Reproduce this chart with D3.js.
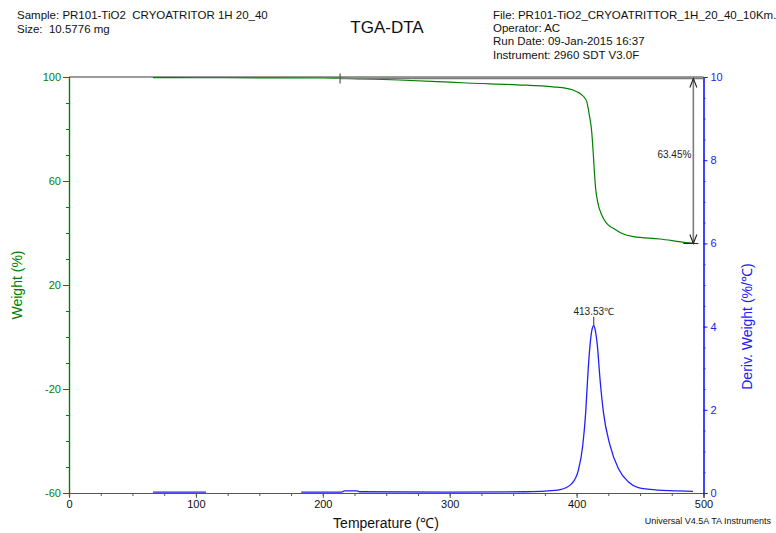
<!DOCTYPE html>
<html>
<head>
<meta charset="utf-8">
<script src="https://cdn.jsdelivr.net/npm/d3@7"></script>
<style>
  html, body { margin: 0; padding: 0; background: #fff; }
  svg { display: block; font-family: "Liberation Sans", Arial, sans-serif; }
  text { white-space: pre; }
</style>
</head>
<body>
<svg id="chart" width="776" height="533"></svg>
<script>
// Header lines
const headerLeft = ["Sample: PR101-TiO2  CRYOATRITOR 1H 20_40", "Size:  10.5776 mg"];
const headerRight = ["File: PR101-TiO2_CRYOATRITTOR_1H_20_40_10Km.", "Operator: AC",
                     "Run Date: 09-Jan-2015 16:37", "Instrument: 2960 SDT V3.0F"];
const titleText = "TGA-DTA";

// Weight (%) vs temperature (°C)
const weightTemp = [66.2, 100, 150, 200, 213.6, 230, 260, 290, 313.6, 353, 381.4, 392, 397.2, 401.5,
                    403, 405.5, 408, 410, 411.9, 413.2, 414, 415, 416.6, 419.8, 423.7, 428.9, 435.5,
                    444.7, 465.7, 486.8, 491.7];
const weightVal  = [99.75, 99.72, 99.68, 99.62, 99.55, 99.3, 98.85, 98.25, 97.7, 97.0, 96.2, 95.6, 95.0, 94.0,
                    93.6, 92.5, 90.5, 85.4, 79.0, 70.0, 63.6, 57.2, 52.0, 46.9, 43.7, 41.8, 39.9,
                    38.6, 37.7, 36.3, 36.1];

// Derivative weight (%/°C) vs temperature (°C), three recorded segments
const derivSegments = [
  { temp: [66.2, 108], val: [0.02, 0.02] },
  { temp: [183, 215, 217, 227, 229, 300, 360], val: [0.02, 0.02, 0.05, 0.05, 0.03, 0.02, 0.03] },
  { temp: [360, 375, 387, 396, 401.4, 404.8, 407.2, 408.7, 410.6, 412.3, 413.53, 414.8, 416.3, 418.4,
           421.1, 426.3, 432.9, 440.7, 448.6, 465, 480, 491.7],
    val:  [0.03, 0.045, 0.08, 0.22, 0.55, 1.13, 1.95, 2.76, 3.56, 3.95, 4.02, 3.9, 3.56, 2.76,
           1.95, 1.15, 0.59, 0.27, 0.13, 0.07, 0.05, 0.04] }
];

// Step analysis and peak annotation
const stepStartTemp = 213.6;
const stepTop = 99.4;
const stepLoss = 63.45;
const stepArrowTemp = 492;
const peakTemp = 413.53;
const peakVal = 4.02;

// Axis ticks
const xMajor = [0, 100, 200, 300, 400, 500];
const xMinor = d3.range(0, 501, 25);
const wMajor = [-60, -20, 20, 60, 100];
const wMinor = d3.range(-60, 101, 10);
const dMajor = [0, 2, 4, 6, 8, 10];
const dMinor = d3.range(0, 10.01, 0.5);

const GREEN = "#008000", BLUE = "#2020ff", GRAY = "#7a7a7a";
const intFmt = d => String(Math.round(d));   // plain hyphen for negatives

const svg = d3.select("#chart");
const x = d3.scaleLinear().domain([0, 500]).range([69, 703.5]);
const yW = d3.scaleLinear().domain([-60, 100]).range([493, 77]);
const yD = d3.scaleLinear().domain([0, 10]).range([493, 77]);

// Header text
svg.append("g").selectAll("text").data(headerLeft).join("text")
  .attr("x", 17).attr("y", (d, i) => 19 + i * 13.5)
  .attr("font-size", 11.5).attr("fill", "#111").text(d => d);
svg.append("g").selectAll("text").data(headerRight).join("text")
  .attr("x", 493).attr("y", (d, i) => 19 + i * 13.2)
  .attr("font-size", 11.5).attr("fill", "#111").text(d => d);
svg.append("text").attr("x", 387).attr("y", 33).attr("text-anchor", "middle")
  .attr("font-size", 17).attr("fill", "#111").text(titleText);

// Frame top line
svg.append("line").attr("x1", x(0)).attr("x2", x(500)).attr("y1", yW(100)).attr("y2", yW(100))
  .attr("stroke", GRAY).attr("stroke-width", 1.3);

// Axes
function styleAxis(g, color, textColor) {
  g.select(".domain").attr("stroke", color).attr("stroke-width", 1.2);
  g.selectAll(".tick line").attr("stroke", color);
  g.selectAll(".tick text").attr("fill", textColor).attr("font-size", 11)
    .attr("font-family", "Liberation Sans, Arial, sans-serif");
}

// x axis
const gxMinor = svg.append("g").attr("transform", `translate(0,${yW(-60)})`)
  .call(d3.axisBottom(x).tickValues(xMinor).tickSize(3).tickFormat(""));
styleAxis(gxMinor, "#555", "#111");
const gx = svg.append("g").attr("transform", `translate(0,${yW(-60)})`)
  .call(d3.axisBottom(x).tickValues(xMajor).tickSize(5).tickPadding(2).tickFormat(intFmt));
styleAxis(gx, "#555", "#111");

// left weight axis
const gwMinor = svg.append("g").attr("transform", `translate(${x(0)},0)`)
  .call(d3.axisLeft(yW).tickValues(wMinor).tickSize(3).tickFormat(""));
styleAxis(gwMinor, GREEN, GREEN);
const gw = svg.append("g").attr("transform", `translate(${x(0)},0)`)
  .call(d3.axisLeft(yW).tickValues(wMajor).tickSize(6).tickPadding(2).tickFormat(intFmt));
styleAxis(gw, GREEN, GREEN);

// right derivative axis
const gdMinor = svg.append("g").attr("transform", `translate(${x(500)},0)`)
  .call(d3.axisRight(yD).tickValues(dMinor).tickSize(2).tickFormat(""));
styleAxis(gdMinor, BLUE, BLUE);
const gd = svg.append("g").attr("transform", `translate(${x(500)},0)`)
  .call(d3.axisRight(yD).tickValues(dMajor).tickSize(4).tickPadding(3).tickFormat(intFmt));
styleAxis(gd, BLUE, BLUE);

// Axis titles
svg.append("text").attr("transform", `translate(22,${yW(20)}) rotate(-90)`)
  .attr("text-anchor", "middle").attr("font-size", 14).attr("fill", GREEN).text("Weight (%)");
svg.append("text").attr("transform", `translate(752,${yD(4)}) rotate(-90)`)
  .attr("text-anchor", "middle").attr("font-size", 14).attr("fill", BLUE).text("Deriv. Weight (%/℃)");
svg.append("text").attr("x", 386).attr("y", 528).attr("text-anchor", "middle")
  .attr("font-size", 14).attr("fill", "#111").text("Temperature (℃)");
svg.append("text").attr("x", 771).attr("y", 524).attr("text-anchor", "end")
  .attr("font-size", 9).attr("fill", "#111").text("Universal V4.5A TA Instruments");

// Weight curve
const weightData = weightTemp.map((t, i) => [t, weightVal[i]]);
svg.append("path").datum(weightData)
  .attr("fill", "none").attr("stroke", GREEN).attr("stroke-width", 1.2)
  .attr("d", d3.line().x(d => x(d[0])).y(d => yW(d[1])).curve(d3.curveMonotoneX));

// Derivative curve
derivSegments.forEach(seg => {
  const data = seg.temp.map((t, i) => [t, seg.val[i]]);
  svg.append("path").datum(data)
    .attr("fill", "none").attr("stroke", BLUE).attr("stroke-width", 1.3)
    .attr("d", d3.line().x(d => x(d[0])).y(d => yD(d[1])).curve(d3.curveMonotoneX));
});

// Step analysis: start marker, reference lines and double arrow
const stepBottom = stepTop - stepLoss;
svg.append("line").attr("x1", x(stepStartTemp)).attr("x2", x(500))
  .attr("y1", yW(stepTop)).attr("y2", yW(stepTop)).attr("stroke", GRAY).attr("stroke-width", 1.6);
svg.append("line").attr("x1", x(stepStartTemp)).attr("x2", x(stepStartTemp))
  .attr("y1", yW(stepTop) - 5).attr("y2", yW(stepTop) + 5).attr("stroke", "#555").attr("stroke-width", 1.2);
svg.append("line").attr("x1", x(stepArrowTemp) - 10).attr("x2", x(stepArrowTemp) + 5)
  .attr("y1", yW(stepBottom)).attr("y2", yW(stepBottom)).attr("stroke", "#222").attr("stroke-width", 1);

const ax = x(stepArrowTemp), aTop = yW(stepTop), aBot = yW(stepBottom);
svg.append("line").attr("x1", ax).attr("x2", ax).attr("y1", aTop).attr("y2", aBot)
  .attr("stroke", GRAY).attr("stroke-width", 1.6);
svg.append("path")
  .attr("d", `M${ax - 3.5},${aTop + 9}L${ax},${aTop}L${ax + 3.5},${aTop + 9}` +
             `M${ax - 3.5},${aBot - 9}L${ax},${aBot}L${ax + 3.5},${aBot - 9}`)
  .attr("fill", "none").attr("stroke", "#222").attr("stroke-width", 1.1);
svg.append("text").attr("x", ax - 2).attr("y", yW(stepTop - stepLoss / 2) - 3)
  .attr("text-anchor", "end").attr("font-size", 10).attr("fill", "#222")
  .text(d3.format(".2f")(stepLoss) + "%");

// Peak label
svg.append("line").attr("x1", x(peakTemp)).attr("x2", x(peakTemp))
  .attr("y1", yD(peakVal) - 9).attr("y2", yD(peakVal)).attr("stroke", "#333").attr("stroke-width", 1);
svg.append("text").attr("x", x(peakTemp)).attr("y", yD(peakVal) - 11)
  .attr("text-anchor", "middle").attr("font-size", 10).attr("fill", "#222")
  .text(d3.format(".2f")(peakTemp) + "℃");
</script>
</body>
</html>
